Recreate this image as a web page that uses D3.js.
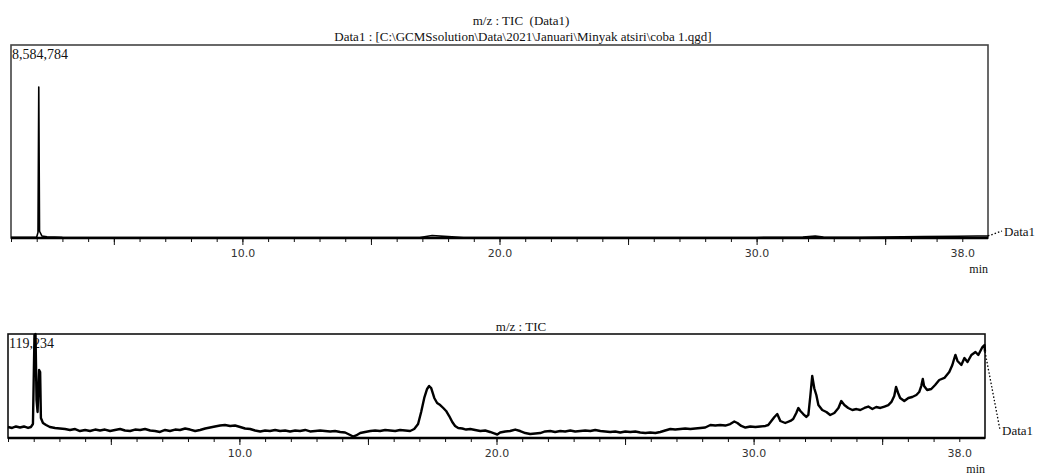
<!DOCTYPE html>
<html>
<head>
<meta charset="utf-8">
<script src="https://cdn.jsdelivr.net/npm/d3@7"></script>
<style>
  body { margin: 0; background: #fff; }
  text { font-family: "Liberation Serif", "Times New Roman", serif; fill: #111; }
  .tick-label { font-family: "DejaVu Sans", sans-serif; font-size: 11px; fill: #333; }
</style>
</head>
<body>
<div id="chart-area"></div>
<script>
// time range shown on both chromatograms (min)
var timeDomain = [1, 39];
var labelTicks = [10, 20, 30, 38];
var labelTickText = ["10.0", "20.0", "30.0", "38.0"];

// upper panel: full-scale TIC
var topFullScale = 8584784;
var topTimes  = [1.0, 1.9, 2.0, 2.05, 2.08, 2.11, 2.2, 2.4, 3.0, 10.0, 16.9, 17.38, 18.0, 18.6, 30.0, 31.8, 32.28, 32.6, 34.0, 36.5, 37.8, 38.6, 39.0];
var topValues = [30000, 30000, 45000, 250000, 6716000, 300000, 90000, 50000, 30000, 25000, 25000, 110000, 60000, 25000, 25000, 40000, 90000, 40000, 35000, 60000, 80000, 90000, 90000];

// lower panel: TIC scaled to 119,234
var bottomFullScale = 119234;
var bottomTimes = [
  1.00, 1.16, 1.31, 1.47, 1.62, 1.78, 1.89, 1.97, 2.03, 2.07,
  2.11, 2.15, 2.21, 2.25, 2.28, 2.36, 2.48, 2.63, 2.83, 3.02,
  3.22, 3.41, 3.61, 3.80, 4.00, 4.19, 4.39, 4.58, 4.77, 4.97,
  5.16, 5.36, 5.55, 5.75, 5.94, 6.14, 6.33, 6.53, 6.72, 6.91,
  7.11, 7.30, 7.50, 7.69, 7.89, 8.08, 8.28, 8.47, 8.67, 8.86,
  9.05, 9.25, 9.44, 9.64, 9.83, 10.03, 10.22, 10.42, 10.61, 10.81,
  11.00, 11.19, 11.39, 11.58, 11.78, 11.97, 12.17, 12.36, 12.56, 12.75,
  12.95, 13.14, 13.33, 13.53, 13.72, 13.92, 14.11, 14.31, 14.42, 14.54,
  14.70, 14.89, 15.09, 15.28, 15.47, 15.67, 15.86, 16.06, 16.25, 16.45,
  16.64, 16.80, 16.95, 17.07, 17.19, 17.30, 17.38, 17.46, 17.58, 17.69,
  17.81, 17.93, 18.04, 18.16, 18.28, 18.39, 18.51, 18.67, 18.82, 18.98,
  19.17, 19.37, 19.56, 19.75, 19.91, 20.03, 20.14, 20.34, 20.53, 20.73,
  20.92, 21.12, 21.31, 21.51, 21.70, 21.89, 22.09, 22.28, 22.48, 22.67,
  22.87, 23.06, 23.26, 23.45, 23.65, 23.84, 24.04, 24.23, 24.42, 24.62,
  24.81, 25.01, 25.20, 25.40, 25.59, 25.79, 25.98, 26.18, 26.37, 26.56,
  26.76, 26.95, 27.15, 27.34, 27.54, 27.73, 27.93, 28.12, 28.32, 28.51,
  28.70, 28.90, 29.09, 29.25, 29.37, 29.52, 29.68, 29.87, 30.07, 30.26,
  30.46, 30.57, 30.69, 30.81, 30.92, 31.04, 31.23, 31.43, 31.54, 31.66,
  31.74, 31.82, 31.93, 32.05, 32.13, 32.21, 32.28, 32.36, 32.44, 32.52,
  32.67, 32.83, 32.98, 33.14, 33.30, 33.41, 33.53, 33.68, 33.84, 34.00,
  34.15, 34.31, 34.46, 34.62, 34.77, 34.93, 35.09, 35.24, 35.36, 35.47,
  35.54, 35.62, 35.70, 35.86, 36.02, 36.17, 36.33, 36.44, 36.52, 36.58,
  36.63, 36.75, 36.91, 37.06, 37.22, 37.42, 37.61, 37.73, 37.81, 37.85,
  37.93, 38.08, 38.20, 38.32, 38.47, 38.63, 38.74, 38.90, 38.98, 39.00
];
var bottomValues = [
  12600, 11500, 13200, 12000, 13200, 11500, 12600, 16000, 118000, 119234,
  43600, 29800, 78000, 75700, 22900, 17200, 14900, 12600, 11500, 10900,
  10300, 9200, 10300, 8000, 9200, 8000, 9700, 8600, 9700, 8000,
  9200, 10300, 8600, 8000, 9700, 9200, 10300, 8600, 8000, 6900,
  9200, 8000, 9700, 9200, 10900, 9700, 8000, 9200, 10900, 12000,
  13200, 14300, 14900, 13800, 14300, 12600, 10900, 10300, 8600, 7500,
  8600, 8000, 9200, 8000, 8600, 7500, 8600, 8000, 9200, 7500,
  8000, 8600, 8000, 7500, 8000, 6900, 6300, 3400, 1700, 2900,
  5700, 6900, 8000, 8600, 8000, 9200, 8600, 8000, 9200, 8600,
  8000, 10300, 16000, 29800, 45900, 56200, 59600, 57300, 45900, 40100,
  37800, 34400, 31000, 25200, 18300, 13800, 11500, 10900, 9700, 10300,
  9200, 8000, 8600, 6900, 5200, 4000, 6300, 7500, 8000, 9700,
  8000, 5700, 4600, 5200, 5700, 7500, 8000, 6900, 8000, 7500,
  8600, 7500, 8000, 8600, 8000, 9200, 8000, 7500, 6900, 7500,
  6300, 7500, 6900, 7500, 6300, 5700, 6300, 5700, 6900, 8600,
  10300, 9700, 10300, 10900, 10300, 10900, 11500, 12000, 14900, 14300,
  14900, 14300, 16000, 18900, 17200, 13800, 12000, 13200, 12600, 13200,
  13800, 14900, 19500, 24100, 27500, 19500, 17200, 19500, 21800, 28700,
  34400, 31000, 27500, 24100, 26400, 49300, 71100, 57000, 49300, 37800,
  32100, 29800, 26400, 28700, 34400, 42400, 37800, 34400, 32100, 33200,
  32100, 34400, 36100, 33200, 35500, 34400, 36100, 37800, 41300, 48200,
  58500, 51600, 45900, 42400, 45900, 47000, 49300, 52700, 59600, 67600,
  59600, 55000, 56200, 60800, 66500, 68800, 75700, 83700, 91700, 95200,
  88300, 83700, 91700, 87100, 95200, 98600, 95200, 104300, 106600, 99000
];

var width = 1038;
var height = 475;

var svg = d3.select('#chart-area')
    .append('svg')
        .attr('width', width)
        .attr('height', height)
        .style('display', 'block');

svg.append('rect').attr('width', width).attr('height', height).attr('fill', '#fff');

// header of the upper panel
svg.append('text')
    .attr('x', 521).attr('y', 25)
    .attr('text-anchor', 'middle')
    .attr('font-size', '13px')
    .style('white-space', 'pre')
    .text('m/z : TIC  (Data1)');

svg.append('text')
    .attr('x', 523).attr('y', 41)
    .attr('text-anchor', 'middle')
    .attr('font-size', '13px')
    .text('Data1 : [C:\\GCMSsolution\\Data\\2021\\Januari\\Minyak atsiri\\coba 1.qgd]');

// header of the lower panel
svg.append('text')
    .attr('x', 521).attr('y', 331)
    .attr('text-anchor', 'middle')
    .attr('font-size', '13px')
    .text('m/z : TIC');

function drawPanel(opt) {
    var x = d3.scaleLinear().domain(timeDomain).range([opt.left, opt.right]);
    var y = d3.scaleLinear().domain([0, opt.fullScale]).range([opt.bottom, opt.top]);

    var g = svg.append('g');

    // frame
    g.append('rect')
        .attr('x', opt.left).attr('y', opt.top)
        .attr('width', opt.right - opt.left)
        .attr('height', opt.bottom - opt.top)
        .attr('fill', 'none')
        .attr('stroke', opt.frame)
        .attr('stroke-width', 1.6);

    // minor ticks every minute
    var minor = d3.axisBottom(x)
        .tickValues(d3.range(1, 39))
        .tickSize(4)
        .tickFormat('');
    g.append('g')
        .attr('transform', 'translate(0,' + opt.bottom + ')')
        .call(minor)
        .call(function (a) { a.select('.domain').remove(); });

    // longer ticks every 5 minutes
    var major = d3.axisBottom(x)
        .tickValues(d3.range(5, 39, 5))
        .tickSize(7)
        .tickFormat('');
    g.append('g')
        .attr('transform', 'translate(0,' + opt.bottom + ')')
        .call(major)
        .call(function (a) { a.select('.domain').remove(); });

    // labelled ticks
    var labels = d3.axisBottom(x)
        .tickValues(labelTicks)
        .tickSize(0)
        .tickPadding(11)
        .tickFormat(function (d, i) { return labelTickText[i]; });
    var lab = g.append('g')
        .attr('transform', 'translate(0,' + opt.bottom + ')')
        .call(labels);
    lab.select('.domain').remove();
    lab.selectAll('text')
        .attr('class', 'tick-label')
        .attr('font-size', null)
        .attr('font-family', null);
    svg.selectAll('.tick line').attr('stroke', '#111');

    // baseline axis line
    g.append('line')
        .attr('x1', opt.left).attr('x2', opt.right)
        .attr('y1', opt.bottom).attr('y2', opt.bottom)
        .attr('stroke', '#000')
        .attr('stroke-width', 2.4);

    g.append('text')
        .attr('x', opt.right).attr('y', opt.bottom + 35)
        .attr('text-anchor', 'end')
        .attr('font-size', '12px')
        .text('min');

    // full scale value
    g.append('text')
        .attr('x', opt.left + 1).attr('y', opt.top + 14)
        .attr('font-size', '14px')
        .text(d3.format(',')(opt.fullScale));

    // trace
    var line = d3.line()
        .x(function (d) { return x(d[0]); })
        .y(function (d) { return y(d[1]); });

    var pts = opt.times.map(function (t, i) { return [t, opt.values[i]]; });

    g.append('path')
        .datum(pts)
        .attr('d', line)
        .attr('fill', 'none')
        .attr('stroke', '#000')
        .attr('stroke-width', opt.strokeWidth)
        .attr('stroke-linejoin', 'round');

    // dotted leader to the series name
    var last = pts[pts.length - 1];
    g.append('line')
        .attr('x1', x(last[0])).attr('y1', y(last[1]))
        .attr('x2', opt.nameX - 2).attr('y2', opt.nameY - 5)
        .attr('stroke', '#000')
        .attr('stroke-width', 1.3)
        .attr('stroke-dasharray', '1.5,2');

    g.append('text')
        .attr('x', opt.nameX).attr('y', opt.nameY)
        .attr('font-size', '13px')
        .text('Data1');
}

drawPanel({
    left: 11, right: 988, top: 45, bottom: 238,
    fullScale: topFullScale,
    times: topTimes, values: topValues,
    frame: '#444', strokeWidth: 1.6,
    nameX: 1004, nameY: 236
});

drawPanel({
    left: 8, right: 985, top: 334, bottom: 438,
    fullScale: bottomFullScale,
    times: bottomTimes, values: bottomValues,
    frame: '#111', strokeWidth: 2.4,
    nameX: 1002, nameY: 435
});
</script>
</body>
</html>
